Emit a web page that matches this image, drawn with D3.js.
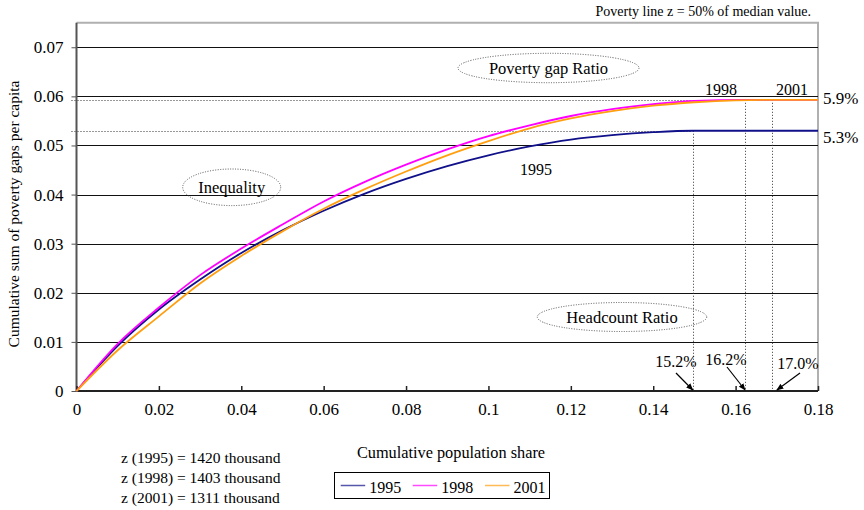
<!DOCTYPE html>
<html>
<head>
<meta charset="utf-8">
<script src="https://cdn.jsdelivr.net/npm/d3@7"></script>
<style>
  body { margin: 0; background: #fff; }
  svg { font-family: "Liberation Serif", "Times New Roman", serif; }
</style>
</head>
<body>
<svg width="864" height="510"></svg>
<script>
// series
const years = ['1995', '1998', '2001'];
const colors = ['#10108a', '#ff00ff', '#ff9f10'];

const share1995 = [0, 0.01, 0.02, 0.03, 0.04, 0.05, 0.06, 0.07, 0.08, 0.09, 0.10, 0.11, 0.12, 0.13, 0.14, 0.1496, 0.18];
const gap1995   = [0, 0.0092, 0.0166, 0.0227, 0.0281, 0.0327, 0.0367, 0.0402, 0.0432, 0.0458, 0.0480, 0.0498, 0.0512, 0.0521, 0.0527, 0.0530, 0.0530];

const share1998 = [0, 0.01, 0.02, 0.03, 0.04, 0.05, 0.06, 0.07, 0.08, 0.09, 0.10, 0.11, 0.12, 0.13, 0.14, 0.15, 0.1623, 0.18];
const gap1998   = [0, 0.0096, 0.0170, 0.0236, 0.0290, 0.0339, 0.0386, 0.0426, 0.0461, 0.0492, 0.0519, 0.0541, 0.0560, 0.0574, 0.0584, 0.0591, 0.0593, 0.0593];

const share2001 = [0, 0.01, 0.02, 0.03, 0.04, 0.05, 0.06, 0.07, 0.08, 0.09, 0.10, 0.11, 0.12, 0.13, 0.14, 0.15, 0.16, 0.1688, 0.18];
const gap2001   = [0, 0.0083, 0.0152, 0.0219, 0.0275, 0.0325, 0.0371, 0.0411, 0.0447, 0.0480, 0.0509, 0.0535, 0.0555, 0.0570, 0.0581, 0.0588, 0.0592, 0.0593, 0.0593];

// headcount ratio (where each curve goes flat) and poverty gap ratio
const headcount = [0.1496, 0.1623, 0.1688];
const headcountLabels = ['15.2%', '16.2%', '17.0%'];
const gapRatio = [0.0530, 0.0593, 0.0593];
const gapLabels = ['5.3%', '5.9%'];

const xTicks = [0, 0.02, 0.04, 0.06, 0.08, 0.1, 0.12, 0.14, 0.16, 0.18];
const yTicks = [0, 0.01, 0.02, 0.03, 0.04, 0.05, 0.06, 0.07];

const zLines = ['z (1995) = 1420 thousand', 'z (1998) = 1403 thousand', 'z (2001) = 1311 thousand'];

const svg = d3.select('svg');
const serif = '"Liberation Serif", "Times New Roman", serif';

const xScale = d3.scaleLinear().domain([0, 0.18]).range([76.5, 818]);
const yScale = d3.scaleLinear().domain([0, 0.075]).range([391, 22.7]);

const fmt = d => d === 0 ? '0' : d3.format('~g')(d);

// plot frame (top / right, light grey)
svg.append('path')
  .attr('d', `M${xScale(0)},${yScale(0.075)}H${xScale(0.18)}V${yScale(0)}`)
  .attr('fill', 'none')
  .attr('stroke', '#b0b0b0')
  .attr('stroke-width', 2);

// gridlines
svg.append('g').selectAll('line').data(yTicks.filter(d => d > 0))
  .enter().append('line')
    .attr('x1', xScale(0)).attr('x2', xScale(0.18))
    .attr('y1', d => Math.round(yScale(d)) + 0.5)
    .attr('y2', d => Math.round(yScale(d)) + 0.5)
    .attr('stroke', '#111')
    .attr('stroke-width', 1);

// dotted reference lines for poverty gap ratios
const refLines = [
  {share: headcount[0], gap: gapRatio[0]},
  {share: headcount[2], gap: gapRatio[2]}
];
svg.append('g').selectAll('line').data(refLines)
  .enter().append('line')
    .attr('x1', xScale(0) - 5).attr('x2', d => xScale(d.share))
    .attr('y1', d => Math.round(yScale(d.gap)) + 0.5).attr('y2', d => Math.round(yScale(d.gap)) + 0.5)
    .attr('stroke', '#333').attr('stroke-width', 1)
    .attr('stroke-dasharray', '1,2');

// dotted verticals at headcount ratios
svg.append('g').selectAll('line').data(headcount)
  .enter().append('line')
    .attr('x1', d => Math.round(xScale(d)) + 0.5).attr('x2', d => Math.round(xScale(d)) + 0.5)
    .attr('y1', (d, i) => yScale(gapRatio[i])).attr('y2', yScale(0))
    .attr('stroke', '#333').attr('stroke-width', 1)
    .attr('stroke-dasharray', '1,2');

// axes
const yAxis = d3.axisLeft(yScale).tickValues(yTicks).tickFormat(fmt).tickSize(5).tickPadding(8);
const yAxisG = svg.append('g').attr('transform', `translate(${xScale(0)},0)`).call(yAxis)
  .attr('font-family', serif).attr('font-size', 17);
yAxisG.select('.domain').attr('stroke', '#555').attr('stroke-width', 2)
  .attr('d', `M0,${yScale(0.075)}V${yScale(0)}`);
yAxisG.selectAll('.tick line').attr('stroke', '#555');

const xAxis = d3.axisBottom(xScale).tickValues(xTicks).tickFormat(fmt).tickSize(-5).tickPadding(12);
const xAxisG = svg.append('g').attr('transform', `translate(0,${yScale(0)})`).call(xAxis)
  .attr('font-family', serif).attr('font-size', 17);
xAxisG.select('.domain').attr('stroke', '#222').attr('stroke-width', 2)
  .attr('d', `M${xScale(0)},0H${xScale(0.18)}`);
xAxisG.selectAll('.tick line').attr('stroke', '#222').attr('stroke-width', 1.5);

// curves
const series = [
  {year: years[0], share: share1995, gap: gap1995},
  {year: years[1], share: share1998, gap: gap1998},
  {year: years[2], share: share2001, gap: gap2001}
];
const lineGen = d3.line()
  .x(d => xScale(d[0]))
  .y(d => yScale(d[1]))
  .curve(d3.curveMonotoneX);

svg.append('g').selectAll('path').data(series)
  .enter().append('path')
    .attr('d', s => lineGen(s.share.map((v, i) => [v, s.gap[i]])))
    .attr('fill', 'none')
    .attr('stroke', (s, i) => colors[i])
    .attr('stroke-width', 1.8);

// axis titles
svg.append('text')
  .attr('transform', `translate(19,214) rotate(-90)`)
  .attr('text-anchor', 'middle')
  .attr('font-size', 15.5)
  .text('Cumulative sum of poverty gaps per capita');

svg.append('text')
  .attr('x', 451).attr('y', 458)
  .attr('text-anchor', 'middle')
  .attr('font-size', 16.3)
  .text('Cumulative population share');

svg.append('text')
  .attr('x', 811).attr('y', 16)
  .attr('text-anchor', 'end')
  .attr('font-size', 14)
  .text('Poverty line z = 50% of median value.');

// ellipse annotations
const notes = [
  {text: 'Poverty gap Ratio', cx: 548.5, cy: 68, rx: 90.5, ry: 14.7},
  {text: 'Inequality', cx: 231.7, cy: 187.3, rx: 49, ry: 18.3},
  {text: 'Headcount Ratio', cx: 622, cy: 317, rx: 84.7, ry: 14.5}
];
const noteG = svg.append('g').selectAll('g').data(notes).enter().append('g');
noteG.append('ellipse')
  .attr('cx', d => d.cx).attr('cy', d => d.cy)
  .attr('rx', d => d.rx).attr('ry', d => d.ry)
  .attr('fill', 'none').attr('stroke', '#555')
  .attr('stroke-width', 1).attr('stroke-dasharray', '1,1.5');
noteG.append('text')
  .attr('x', d => d.cx).attr('y', d => d.cy + 6)
  .attr('text-anchor', 'middle')
  .attr('font-size', 16.5)
  .text(d => d.text);

// year labels on curves
svg.append('text').attr('x', 536).attr('y', 175).attr('text-anchor', 'middle')
  .attr('font-size', 16).text(years[0]);
svg.append('text').attr('x', 721).attr('y', 95).attr('text-anchor', 'middle')
  .attr('font-size', 16).text(years[1]);
svg.append('text').attr('x', 792).attr('y', 95).attr('text-anchor', 'middle')
  .attr('font-size', 16).text(years[2]);

// poverty gap ratio labels
svg.append('text').attr('x', 823).attr('y', 104).attr('font-size', 17).text(gapLabels[1]);
svg.append('text').attr('x', 823).attr('y', 143).attr('font-size', 17).text(gapLabels[0]);

// headcount labels with arrows
svg.append('defs').append('marker')
  .attr('id', 'arrow')
  .attr('viewBox', '0 0 10 10')
  .attr('refX', 9).attr('refY', 5)
  .attr('markerWidth', 6).attr('markerHeight', 6)
  .attr('orient', 'auto')
  .append('path').attr('d', 'M0,1L10,5L0,9z').attr('fill', '#000');

const hcPos = [
  {tx: 676, ty: 367, x0: 676, y0: 373},
  {tx: 726, ty: 365, x0: 727, y0: 367},
  {tx: 798, ty: 369, x0: 800, y0: 373}
];
headcount.forEach((h, i) => {
  const p = hcPos[i];
  svg.append('text').attr('x', p.tx).attr('y', p.ty).attr('text-anchor', 'middle')
    .attr('font-size', 16).text(headcountLabels[i]);
  svg.append('line')
    .attr('x1', p.x0).attr('y1', p.y0)
    .attr('x2', xScale(h) + (i === 2 ? 5 : 0)).attr('y2', yScale(0) - 1)
    .attr('stroke', '#000').attr('stroke-width', 1.2)
    .attr('marker-end', 'url(#arrow)');
});

// poverty lines text
svg.append('g').selectAll('text').data(zLines)
  .enter().append('text')
    .attr('x', 121).attr('y', (d, i) => 463 + i * 20)
    .attr('font-size', 15.5)
    .text(d => d);

// legend
const legend = svg.append('g');
legend.append('rect')
  .attr('x', 334.5).attr('y', 472.5).attr('width', 215).attr('height', 26)
  .attr('fill', '#fff').attr('stroke', '#000').attr('stroke-width', 1);
const legendX = [340.7, 412.7, 485];
const item = legend.selectAll('g.item').data(years).enter().append('g').attr('class', 'item');
item.append('line')
  .attr('x1', (d, i) => legendX[i]).attr('x2', (d, i) => legendX[i] + 24.5)
  .attr('y1', 485.5).attr('y2', 485.5)
  .attr('stroke', (d, i) => colors[i]).attr('stroke-width', 1.5).attr('opacity', 0.7);
item.append('text')
  .attr('x', (d, i) => legendX[i] + 28.5).attr('y', 492.5)
  .attr('font-size', 16)
  .text(d => d);
</script>
</body>
</html>
